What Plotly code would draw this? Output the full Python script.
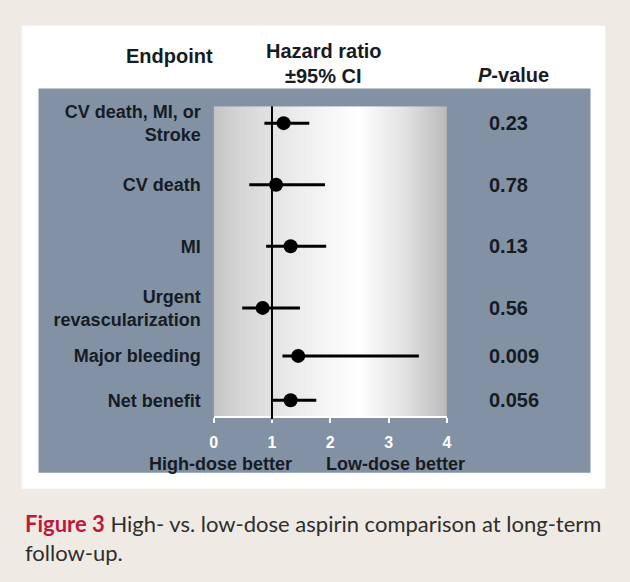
import plotly.graph_objects as go

# ---------------- data ----------------
endpoints = ["CV death, MI, or<br>Stroke", "CV death", "MI",
             "Urgent<br>revascularization", "Major bleeding", "Net benefit"]
hazard_ratio = [1.20, 1.07, 1.32, 0.84, 1.45, 1.32]
ci_lower = [0.87, 0.61, 0.90, 0.49, 1.18, 1.00]
ci_upper = [1.64, 1.91, 1.93, 1.48, 3.52, 1.76]
p_values = ["0.23", "0.78", "0.13", "0.56", "0.009", "0.056"]
x_ticks = [0, 1, 2, 3, 4]

# ---------------- layout helpers ----------------
W, H = 630, 582
def px(x):
    return x / W
def py(y):
    return 1 - y / H

row_pos = [1, 2, 3, 4, 4.78, 5.5]   # vertical placement of rows (layout)
y_range = [5.758, 0.726]
x_range = [0, 4]

FONT = "Liberation Sans, Arial, sans-serif"
DARK = "#161b24"
SLATE = "#8292a4"
BEIGE = "#efebe4"

fig = go.Figure()

# gradient plot background
fig.add_trace(go.Scatter(
    x=[x_range[0], x_range[1], x_range[1], x_range[0], x_range[0]],
    y=[y_range[0], y_range[0], y_range[1], y_range[1], y_range[0]],
    mode="lines", line=dict(width=0), fill="toself",
    fillgradient=dict(type="horizontal", colorscale=[
        [0.0, "#c4c4c4"], [0.12, "#d6d6d6"], [0.35, "#ececec"],
        [0.62, "#ffffff"], [0.82, "#e2e2e2"], [1.0, "#bababa"]]),
    hoverinfo="skip", showlegend=False))

# estimates with CI
fig.add_trace(go.Scatter(
    x=hazard_ratio, y=row_pos, mode="markers",
    marker=dict(color="black", size=14),
    error_x=dict(type="data", symmetric=False,
                 array=[u - h for u, h in zip(ci_upper, hazard_ratio)],
                 arrayminus=[h - l for h, l in zip(hazard_ratio, ci_lower)],
                 color="black", thickness=3, width=0),
    hoverinfo="skip", showlegend=False))

shapes = [
    dict(type="rect", xref="paper", yref="paper", x0=px(18), x1=px(610),
         y0=py(22), y1=py(488), fillcolor="white", line=dict(width=0), layer="below"),
    dict(type="rect", xref="paper", yref="paper", x0=px(35), x1=px(595),
         y0=py(85), y1=py(472), fillcolor=SLATE, line=dict(width=0), layer="below"),
    dict(type="line", xref="x", yref="y domain", x0=1, x1=1, y0=-0.01, y1=1,
         line=dict(color="black", width=2)),
]

annotations = [
    dict(text="Endpoint", x=px(168), y=py(52)),
    dict(text="Hazard ratio", x=px(325), y=py(47)),
    dict(text="±95% CI", x=px(324), y=py(72)),
    dict(text="<i>P</i>-value", x=px(517), y=py(71)),
    dict(text="High-dose better", x=px(220), y=py(463), size=18),
    dict(text="Low-dose better", x=px(397), y=py(463), size=18),
]
ann = []
for a in annotations:
    ann.append(dict(text=a["text"], x=a["x"], y=a["y"], xref="paper", yref="paper",
                    showarrow=False, xanchor="center", yanchor="middle",
                    font=dict(family=FONT, size=a.get("size", 20), color=DARK, weight="bold")))
for p, r in zip(p_values, row_pos):
    ann.append(dict(text=p, x=px(490), y=r, xref="paper", yref="y", showarrow=False,
                    xanchor="left", yanchor="middle",
                    font=dict(family=FONT, size=20, color=DARK, weight="bold")))
ann.append(dict(
    text=("<span style='color:#c0183a'><b>Figure 3</b></span> High- vs. low-dose aspirin "
          "comparison at long-term<br>follow-up."),
    x=px(19), y=py(507), xref="paper", yref="paper", showarrow=False,
    xanchor="left", yanchor="top", align="left",
    font=dict(family="Lato, Open Sans, sans-serif", size=22, color="#2e2e2e")))

fig.update_layout(
    width=W, height=H, margin=dict(l=0, r=0, t=0, b=0),
    paper_bgcolor=BEIGE, plot_bgcolor="rgba(0,0,0,0)",
    shapes=shapes, annotations=ann,
    xaxis=dict(domain=[px(212.7), px(449.3)], range=x_range, tickvals=x_ticks,
               showgrid=False, zeroline=False, showline=True, linecolor="white",
               linewidth=2, ticks="outside", ticklen=5, tickwidth=2, tickcolor="white",
               ticklabelstandoff=6,
               tickfont=dict(family=FONT, size=16, color="white", weight="bold"),
               fixedrange=True),
    yaxis=dict(domain=[py(415), py(103)], range=y_range, tickvals=row_pos,
               ticktext=endpoints, showgrid=False, zeroline=False, showline=False,
               ticks="", ticklabelstandoff=12,
               tickfont=dict(family=FONT, size=18, color=DARK, weight="bold"),
               fixedrange=True),
)

fig.write_html("out.html", config={"displayModeBar": False},
               post_script="document.body.style.margin='0';document.body.style.overflow='hidden';")
